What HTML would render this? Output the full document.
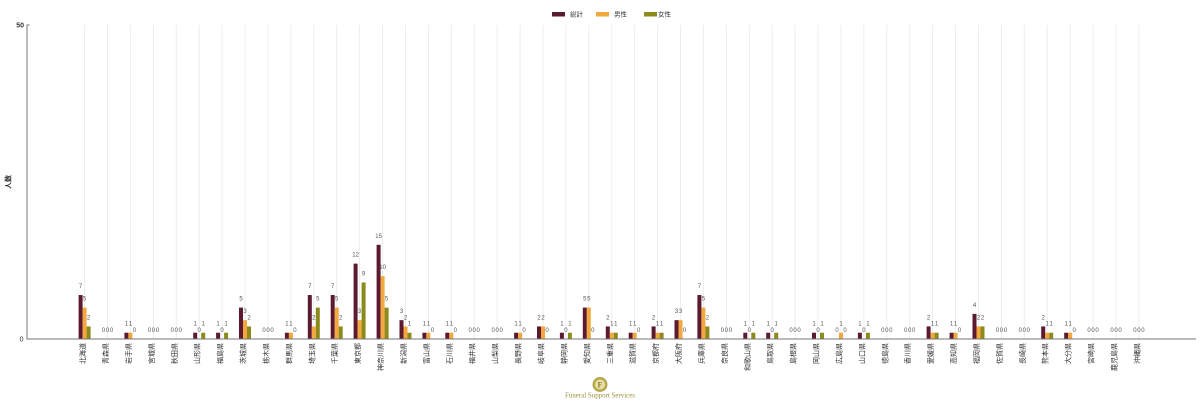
<!DOCTYPE html>
<html><head><meta charset="utf-8"><style>
html,body{margin:0;padding:0;background:#fff;}
svg{display:block;}
.t{fill:#5b1a2f}.m{fill:#f3a73f}.f{fill:#8d8a1c}
.g{stroke:#ececec;stroke-width:1}
.v{font-family:"Liberation Sans",sans-serif;font-size:6px;fill:#555;text-anchor:middle}
.c{font-family:"Liberation Sans","Noto Sans CJK JP",sans-serif;font-size:7px;fill:#333;text-anchor:end}
.lg{font-family:"Liberation Sans","Noto Sans CJK JP",sans-serif;font-size:6.5px;fill:#333}
</style></head><body>
<svg width="1200" height="403" viewBox="0 0 1200 403" xmlns="http://www.w3.org/2000/svg">
<!-- legend -->
<rect class="t" x="552" y="12" width="13" height="4.5"/><text class="lg" x="570" y="16.5">総計</text>
<rect class="m" x="596" y="12" width="13" height="4.5"/><text class="lg" x="614" y="16.5">男性</text>
<rect class="f" x="644" y="12" width="13" height="4.5"/><text class="lg" x="658" y="16.5">女性</text>

<!-- y axis -->
<text transform="translate(10.5 182) rotate(-90)" text-anchor="middle" style="font-family:'Liberation Sans','Noto Sans CJK JP',sans-serif;font-size:7px;font-weight:bold;fill:#333">人数</text>
<text x="24" y="27.5" text-anchor="end" style="font-family:'Liberation Sans',sans-serif;font-size:7px;font-weight:bold;fill:#333">50</text>
<text x="23.5" y="341.5" text-anchor="end" style="font-family:'Liberation Sans',sans-serif;font-size:7px;fill:#333">0</text>

<!-- categories -->
<g transform="translate(84.6 0)"><line class="g" x1="0" x2="0" y1="25" y2="339"/><rect class="t" x="-6" y="295.04" width="4" height="43.96"/><rect class="m" x="-2" y="307.6" width="4" height="31.4"/><rect class="f" x="2" y="326.44" width="4" height="12.56"/><text class="v" x="-4" y="288">7</text><text class="v" x="0" y="300.6">5</text><text class="v" x="4" y="319.4">2</text><text class="c" transform="translate(0.5 343) rotate(-90)">北海道</text></g>
<g transform="translate(107.5 0)"><line class="g" x1="0" x2="0" y1="25" y2="339"/><text class="v" x="-4" y="332">0</text><text class="v" x="0" y="332">0</text><text class="v" x="4" y="332">0</text><text class="c" transform="translate(0.5 343) rotate(-90)">青森県</text></g>
<g transform="translate(130.4 0)"><line class="g" x1="0" x2="0" y1="25" y2="339"/><rect class="t" x="-6" y="332.72" width="4" height="6.28"/><rect class="m" x="-2" y="332.72" width="4" height="6.28"/><text class="v" x="-4" y="325.7">1</text><text class="v" x="0" y="325.7">1</text><text class="v" x="4" y="332">0</text><text class="c" transform="translate(0.5 343) rotate(-90)">岩手県</text></g>
<g transform="translate(153.4 0)"><line class="g" x1="0" x2="0" y1="25" y2="339"/><text class="v" x="-4" y="332">0</text><text class="v" x="0" y="332">0</text><text class="v" x="4" y="332">0</text><text class="c" transform="translate(0.5 343) rotate(-90)">宮城県</text></g>
<g transform="translate(176.3 0)"><line class="g" x1="0" x2="0" y1="25" y2="339"/><text class="v" x="-4" y="332">0</text><text class="v" x="0" y="332">0</text><text class="v" x="4" y="332">0</text><text class="c" transform="translate(0.5 343) rotate(-90)">秋田県</text></g>
<g transform="translate(199.2 0)"><line class="g" x1="0" x2="0" y1="25" y2="339"/><rect class="t" x="-6" y="332.72" width="4" height="6.28"/><rect class="f" x="2" y="332.72" width="4" height="6.28"/><text class="v" x="-4" y="325.7">1</text><text class="v" x="0" y="332">0</text><text class="v" x="4" y="325.7">1</text><text class="c" transform="translate(0.5 343) rotate(-90)">山形県</text></g>
<g transform="translate(222.1 0)"><line class="g" x1="0" x2="0" y1="25" y2="339"/><rect class="t" x="-6" y="332.72" width="4" height="6.28"/><rect class="f" x="2" y="332.72" width="4" height="6.28"/><text class="v" x="-4" y="325.7">1</text><text class="v" x="0" y="332">0</text><text class="v" x="4" y="325.7">1</text><text class="c" transform="translate(0.5 343) rotate(-90)">福島県</text></g>
<g transform="translate(245.0 0)"><line class="g" x1="0" x2="0" y1="25" y2="339"/><rect class="t" x="-6" y="307.6" width="4" height="31.4"/><rect class="m" x="-2" y="320.16" width="4" height="18.84"/><rect class="f" x="2" y="326.44" width="4" height="12.56"/><text class="v" x="-4" y="300.6">5</text><text class="v" x="0" y="313.2">3</text><text class="v" x="4" y="319.4">2</text><text class="c" transform="translate(0.5 343) rotate(-90)">茨城県</text></g>
<g transform="translate(268.0 0)"><line class="g" x1="0" x2="0" y1="25" y2="339"/><text class="v" x="-4" y="332">0</text><text class="v" x="0" y="332">0</text><text class="v" x="4" y="332">0</text><text class="c" transform="translate(0.5 343) rotate(-90)">栃木県</text></g>
<g transform="translate(290.9 0)"><line class="g" x1="0" x2="0" y1="25" y2="339"/><rect class="t" x="-6" y="332.72" width="4" height="6.28"/><rect class="m" x="-2" y="332.72" width="4" height="6.28"/><text class="v" x="-4" y="325.7">1</text><text class="v" x="0" y="325.7">1</text><text class="v" x="4" y="332">0</text><text class="c" transform="translate(0.5 343) rotate(-90)">群馬県</text></g>
<g transform="translate(313.8 0)"><line class="g" x1="0" x2="0" y1="25" y2="339"/><rect class="t" x="-6" y="295.04" width="4" height="43.96"/><rect class="m" x="-2" y="326.44" width="4" height="12.56"/><rect class="f" x="2" y="307.6" width="4" height="31.4"/><text class="v" x="-4" y="288">7</text><text class="v" x="0" y="319.4">2</text><text class="v" x="4" y="300.6">5</text><text class="c" transform="translate(0.5 343) rotate(-90)">埼玉県</text></g>
<g transform="translate(336.7 0)"><line class="g" x1="0" x2="0" y1="25" y2="339"/><rect class="t" x="-6" y="295.04" width="4" height="43.96"/><rect class="m" x="-2" y="307.6" width="4" height="31.4"/><rect class="f" x="2" y="326.44" width="4" height="12.56"/><text class="v" x="-4" y="288">7</text><text class="v" x="0" y="300.6">5</text><text class="v" x="4" y="319.4">2</text><text class="c" transform="translate(0.5 343) rotate(-90)">千葉県</text></g>
<g transform="translate(359.6 0)"><line class="g" x1="0" x2="0" y1="25" y2="339"/><rect class="t" x="-6" y="263.64" width="4" height="75.36"/><rect class="m" x="-2" y="320.16" width="4" height="18.84"/><rect class="f" x="2" y="282.48" width="4" height="56.52"/><text class="v" x="-4" y="256.6">12</text><text class="v" x="0" y="313.2">3</text><text class="v" x="4" y="275.5">9</text><text class="c" transform="translate(0.5 343) rotate(-90)">東京都</text></g>
<g transform="translate(382.6 0)"><line class="g" x1="0" x2="0" y1="25" y2="339"/><rect class="t" x="-6" y="244.8" width="4" height="94.2"/><rect class="m" x="-2" y="276.2" width="4" height="62.8"/><rect class="f" x="2" y="307.6" width="4" height="31.4"/><text class="v" x="-4" y="237.8">15</text><text class="v" x="0" y="269.2">10</text><text class="v" x="4" y="300.6">5</text><text class="c" transform="translate(0.5 343) rotate(-90)">神奈川県</text></g>
<g transform="translate(405.5 0)"><line class="g" x1="0" x2="0" y1="25" y2="339"/><rect class="t" x="-6" y="320.16" width="4" height="18.84"/><rect class="m" x="-2" y="326.44" width="4" height="12.56"/><rect class="f" x="2" y="332.72" width="4" height="6.28"/><text class="v" x="-4" y="313.2">3</text><text class="v" x="0" y="319.4">2</text><text class="v" x="4" y="325.7">1</text><text class="c" transform="translate(0.5 343) rotate(-90)">新潟県</text></g>
<g transform="translate(428.4 0)"><line class="g" x1="0" x2="0" y1="25" y2="339"/><rect class="t" x="-6" y="332.72" width="4" height="6.28"/><rect class="m" x="-2" y="332.72" width="4" height="6.28"/><text class="v" x="-4" y="325.7">1</text><text class="v" x="0" y="325.7">1</text><text class="v" x="4" y="332">0</text><text class="c" transform="translate(0.5 343) rotate(-90)">富山県</text></g>
<g transform="translate(451.3 0)"><line class="g" x1="0" x2="0" y1="25" y2="339"/><rect class="t" x="-6" y="332.72" width="4" height="6.28"/><rect class="m" x="-2" y="332.72" width="4" height="6.28"/><text class="v" x="-4" y="325.7">1</text><text class="v" x="0" y="325.7">1</text><text class="v" x="4" y="332">0</text><text class="c" transform="translate(0.5 343) rotate(-90)">石川県</text></g>
<g transform="translate(474.2 0)"><line class="g" x1="0" x2="0" y1="25" y2="339"/><text class="v" x="-4" y="332">0</text><text class="v" x="0" y="332">0</text><text class="v" x="4" y="332">0</text><text class="c" transform="translate(0.5 343) rotate(-90)">福井県</text></g>
<g transform="translate(497.2 0)"><line class="g" x1="0" x2="0" y1="25" y2="339"/><text class="v" x="-4" y="332">0</text><text class="v" x="0" y="332">0</text><text class="v" x="4" y="332">0</text><text class="c" transform="translate(0.5 343) rotate(-90)">山梨県</text></g>
<g transform="translate(520.1 0)"><line class="g" x1="0" x2="0" y1="25" y2="339"/><rect class="t" x="-6" y="332.72" width="4" height="6.28"/><rect class="m" x="-2" y="332.72" width="4" height="6.28"/><text class="v" x="-4" y="325.7">1</text><text class="v" x="0" y="325.7">1</text><text class="v" x="4" y="332">0</text><text class="c" transform="translate(0.5 343) rotate(-90)">長野県</text></g>
<g transform="translate(543.0 0)"><line class="g" x1="0" x2="0" y1="25" y2="339"/><rect class="t" x="-6" y="326.44" width="4" height="12.56"/><rect class="m" x="-2" y="326.44" width="4" height="12.56"/><text class="v" x="-4" y="319.4">2</text><text class="v" x="0" y="319.4">2</text><text class="v" x="4" y="332">0</text><text class="c" transform="translate(0.5 343) rotate(-90)">岐阜県</text></g>
<g transform="translate(565.9 0)"><line class="g" x1="0" x2="0" y1="25" y2="339"/><rect class="t" x="-6" y="332.72" width="4" height="6.28"/><rect class="f" x="2" y="332.72" width="4" height="6.28"/><text class="v" x="-4" y="325.7">1</text><text class="v" x="0" y="332">0</text><text class="v" x="4" y="325.7">1</text><text class="c" transform="translate(0.5 343) rotate(-90)">静岡県</text></g>
<g transform="translate(588.8 0)"><line class="g" x1="0" x2="0" y1="25" y2="339"/><rect class="t" x="-6" y="307.6" width="4" height="31.4"/><rect class="m" x="-2" y="307.6" width="4" height="31.4"/><text class="v" x="-4" y="300.6">5</text><text class="v" x="0" y="300.6">5</text><text class="v" x="4" y="332">0</text><text class="c" transform="translate(0.5 343) rotate(-90)">愛知県</text></g>
<g transform="translate(611.8 0)"><line class="g" x1="0" x2="0" y1="25" y2="339"/><rect class="t" x="-6" y="326.44" width="4" height="12.56"/><rect class="m" x="-2" y="332.72" width="4" height="6.28"/><rect class="f" x="2" y="332.72" width="4" height="6.28"/><text class="v" x="-4" y="319.4">2</text><text class="v" x="0" y="325.7">1</text><text class="v" x="4" y="325.7">1</text><text class="c" transform="translate(0.5 343) rotate(-90)">三重県</text></g>
<g transform="translate(634.7 0)"><line class="g" x1="0" x2="0" y1="25" y2="339"/><rect class="t" x="-6" y="332.72" width="4" height="6.28"/><rect class="m" x="-2" y="332.72" width="4" height="6.28"/><text class="v" x="-4" y="325.7">1</text><text class="v" x="0" y="325.7">1</text><text class="v" x="4" y="332">0</text><text class="c" transform="translate(0.5 343) rotate(-90)">滋賀県</text></g>
<g transform="translate(657.6 0)"><line class="g" x1="0" x2="0" y1="25" y2="339"/><rect class="t" x="-6" y="326.44" width="4" height="12.56"/><rect class="m" x="-2" y="332.72" width="4" height="6.28"/><rect class="f" x="2" y="332.72" width="4" height="6.28"/><text class="v" x="-4" y="319.4">2</text><text class="v" x="0" y="325.7">1</text><text class="v" x="4" y="325.7">1</text><text class="c" transform="translate(0.5 343) rotate(-90)">京都府</text></g>
<g transform="translate(680.5 0)"><line class="g" x1="0" x2="0" y1="25" y2="339"/><rect class="t" x="-6" y="320.16" width="4" height="18.84"/><rect class="m" x="-2" y="320.16" width="4" height="18.84"/><text class="v" x="-4" y="313.2">3</text><text class="v" x="0" y="313.2">3</text><text class="v" x="4" y="332">0</text><text class="c" transform="translate(0.5 343) rotate(-90)">大阪府</text></g>
<g transform="translate(703.4 0)"><line class="g" x1="0" x2="0" y1="25" y2="339"/><rect class="t" x="-6" y="295.04" width="4" height="43.96"/><rect class="m" x="-2" y="307.6" width="4" height="31.4"/><rect class="f" x="2" y="326.44" width="4" height="12.56"/><text class="v" x="-4" y="288">7</text><text class="v" x="0" y="300.6">5</text><text class="v" x="4" y="319.4">2</text><text class="c" transform="translate(0.5 343) rotate(-90)">兵庫県</text></g>
<g transform="translate(726.4 0)"><line class="g" x1="0" x2="0" y1="25" y2="339"/><text class="v" x="-4" y="332">0</text><text class="v" x="0" y="332">0</text><text class="v" x="4" y="332">0</text><text class="c" transform="translate(0.5 343) rotate(-90)">奈良県</text></g>
<g transform="translate(749.3 0)"><line class="g" x1="0" x2="0" y1="25" y2="339"/><rect class="t" x="-6" y="332.72" width="4" height="6.28"/><rect class="f" x="2" y="332.72" width="4" height="6.28"/><text class="v" x="-4" y="325.7">1</text><text class="v" x="0" y="332">0</text><text class="v" x="4" y="325.7">1</text><text class="c" transform="translate(0.5 343) rotate(-90)">和歌山県</text></g>
<g transform="translate(772.2 0)"><line class="g" x1="0" x2="0" y1="25" y2="339"/><rect class="t" x="-6" y="332.72" width="4" height="6.28"/><rect class="f" x="2" y="332.72" width="4" height="6.28"/><text class="v" x="-4" y="325.7">1</text><text class="v" x="0" y="332">0</text><text class="v" x="4" y="325.7">1</text><text class="c" transform="translate(0.5 343) rotate(-90)">鳥取県</text></g>
<g transform="translate(795.1 0)"><line class="g" x1="0" x2="0" y1="25" y2="339"/><text class="v" x="-4" y="332">0</text><text class="v" x="0" y="332">0</text><text class="v" x="4" y="332">0</text><text class="c" transform="translate(0.5 343) rotate(-90)">島根県</text></g>
<g transform="translate(818.0 0)"><line class="g" x1="0" x2="0" y1="25" y2="339"/><rect class="t" x="-6" y="332.72" width="4" height="6.28"/><rect class="f" x="2" y="332.72" width="4" height="6.28"/><text class="v" x="-4" y="325.7">1</text><text class="v" x="0" y="332">0</text><text class="v" x="4" y="325.7">1</text><text class="c" transform="translate(0.5 343) rotate(-90)">岡山県</text></g>
<g transform="translate(841.0 0)"><line class="g" x1="0" x2="0" y1="25" y2="339"/><rect class="m" x="-2" y="332.72" width="4" height="6.28"/><text class="v" x="-4" y="332">0</text><text class="v" x="0" y="325.7">1</text><text class="v" x="4" y="332">0</text><text class="c" transform="translate(0.5 343) rotate(-90)">広島県</text></g>
<g transform="translate(863.9 0)"><line class="g" x1="0" x2="0" y1="25" y2="339"/><rect class="t" x="-6" y="332.72" width="4" height="6.28"/><rect class="f" x="2" y="332.72" width="4" height="6.28"/><text class="v" x="-4" y="325.7">1</text><text class="v" x="0" y="332">0</text><text class="v" x="4" y="325.7">1</text><text class="c" transform="translate(0.5 343) rotate(-90)">山口県</text></g>
<g transform="translate(886.8 0)"><line class="g" x1="0" x2="0" y1="25" y2="339"/><text class="v" x="-4" y="332">0</text><text class="v" x="0" y="332">0</text><text class="v" x="4" y="332">0</text><text class="c" transform="translate(0.5 343) rotate(-90)">徳島県</text></g>
<g transform="translate(909.7 0)"><line class="g" x1="0" x2="0" y1="25" y2="339"/><text class="v" x="-4" y="332">0</text><text class="v" x="0" y="332">0</text><text class="v" x="4" y="332">0</text><text class="c" transform="translate(0.5 343) rotate(-90)">香川県</text></g>
<g transform="translate(932.6 0)"><line class="g" x1="0" x2="0" y1="25" y2="339"/><rect class="t" x="-6" y="326.44" width="4" height="12.56"/><rect class="m" x="-2" y="332.72" width="4" height="6.28"/><rect class="f" x="2" y="332.72" width="4" height="6.28"/><text class="v" x="-4" y="319.4">2</text><text class="v" x="0" y="325.7">1</text><text class="v" x="4" y="325.7">1</text><text class="c" transform="translate(0.5 343) rotate(-90)">愛媛県</text></g>
<g transform="translate(955.6 0)"><line class="g" x1="0" x2="0" y1="25" y2="339"/><rect class="t" x="-6" y="332.72" width="4" height="6.28"/><rect class="m" x="-2" y="332.72" width="4" height="6.28"/><text class="v" x="-4" y="325.7">1</text><text class="v" x="0" y="325.7">1</text><text class="v" x="4" y="332">0</text><text class="c" transform="translate(0.5 343) rotate(-90)">高知県</text></g>
<g transform="translate(978.5 0)"><line class="g" x1="0" x2="0" y1="25" y2="339"/><rect class="t" x="-6" y="313.88" width="4" height="25.12"/><rect class="m" x="-2" y="326.44" width="4" height="12.56"/><rect class="f" x="2" y="326.44" width="4" height="12.56"/><text class="v" x="-4" y="306.9">4</text><text class="v" x="0" y="319.4">2</text><text class="v" x="4" y="319.4">2</text><text class="c" transform="translate(0.5 343) rotate(-90)">福岡県</text></g>
<g transform="translate(1001.4 0)"><line class="g" x1="0" x2="0" y1="25" y2="339"/><text class="v" x="-4" y="332">0</text><text class="v" x="0" y="332">0</text><text class="v" x="4" y="332">0</text><text class="c" transform="translate(0.5 343) rotate(-90)">佐賀県</text></g>
<g transform="translate(1024.3 0)"><line class="g" x1="0" x2="0" y1="25" y2="339"/><text class="v" x="-4" y="332">0</text><text class="v" x="0" y="332">0</text><text class="v" x="4" y="332">0</text><text class="c" transform="translate(0.5 343) rotate(-90)">長崎県</text></g>
<g transform="translate(1047.2 0)"><line class="g" x1="0" x2="0" y1="25" y2="339"/><rect class="t" x="-6" y="326.44" width="4" height="12.56"/><rect class="m" x="-2" y="332.72" width="4" height="6.28"/><rect class="f" x="2" y="332.72" width="4" height="6.28"/><text class="v" x="-4" y="319.4">2</text><text class="v" x="0" y="325.7">1</text><text class="v" x="4" y="325.7">1</text><text class="c" transform="translate(0.5 343) rotate(-90)">熊本県</text></g>
<g transform="translate(1070.2 0)"><line class="g" x1="0" x2="0" y1="25" y2="339"/><rect class="t" x="-6" y="332.72" width="4" height="6.28"/><rect class="m" x="-2" y="332.72" width="4" height="6.28"/><text class="v" x="-4" y="325.7">1</text><text class="v" x="0" y="325.7">1</text><text class="v" x="4" y="332">0</text><text class="c" transform="translate(0.5 343) rotate(-90)">大分県</text></g>
<g transform="translate(1093.1 0)"><line class="g" x1="0" x2="0" y1="25" y2="339"/><text class="v" x="-4" y="332">0</text><text class="v" x="0" y="332">0</text><text class="v" x="4" y="332">0</text><text class="c" transform="translate(0.5 343) rotate(-90)">宮崎県</text></g>
<g transform="translate(1116.0 0)"><line class="g" x1="0" x2="0" y1="25" y2="339"/><text class="v" x="-4" y="332">0</text><text class="v" x="0" y="332">0</text><text class="v" x="4" y="332">0</text><text class="c" transform="translate(0.5 343) rotate(-90)">鹿児島県</text></g>
<g transform="translate(1138.9 0)"><line class="g" x1="0" x2="0" y1="25" y2="339"/><text class="v" x="-4" y="332">0</text><text class="v" x="0" y="332">0</text><text class="v" x="4" y="332">0</text><text class="c" transform="translate(0.5 343) rotate(-90)">沖縄県</text></g>

<!-- axes -->
<line x1="27" y1="24.5" x2="27" y2="339.5" stroke="#777" stroke-width="1"/>
<line x1="27" y1="25" x2="29.5" y2="25" stroke="#777" stroke-width="1"/>
<line x1="26.5" y1="339" x2="1196" y2="339" stroke="#777" stroke-width="1"/>

<!-- logo -->
<circle cx="600" cy="384.5" r="7.5" fill="#b5a84a"/>
<circle cx="600" cy="384.5" r="5" fill="#e8e0a8"/>
<text x="600" y="387.5" text-anchor="middle" style="font-family:'Liberation Serif',serif;font-size:8px;font-weight:bold;fill:#8d7f2a">F</text>
<text x="600" y="397.5" text-anchor="middle" textLength="70" lengthAdjust="spacingAndGlyphs" style="font-family:'Liberation Serif',serif;font-size:7px;fill:#9a8f3a">Funeral Support Services</text>
</svg>
</body></html>
